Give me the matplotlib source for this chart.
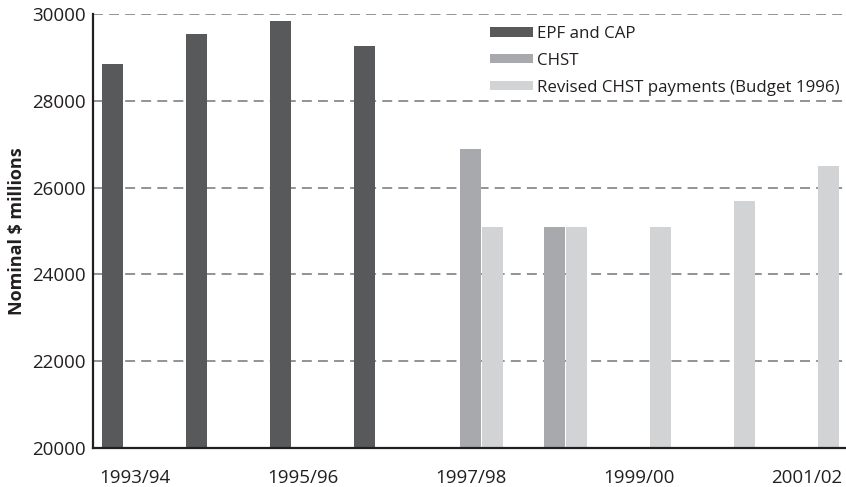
import matplotlib
matplotlib.use("Agg")
import matplotlib.pyplot as plt
import numpy as np

years = ["1993/94", "1994/95", "1995/96", "1996/97", "1997/98",
         "1998/99", "1999/00", "2000/01", "2001/02"]
tick_labels = ["1993/94", "1995/96", "1997/98", "1999/00", "2001/02"]
epf_cap = [28850, 29550, 29850, 29270, None, None, None, None, None]
chst = [None, None, None, None, 26900, 25100, None, None, None]
revised = [None, None, None, None, 25100, 25100, 25100, 25700, 26500]

series = [
    ("EPF and CAP", epf_cap, "#58595b", -0.262),
    ("CHST", chst, "#a7a9ac", 0.0),
    ("Revised CHST payments (Budget 1996)", revised, "#d1d3d4", 0.262),
]

plt.rcParams['font.family'] = ['Open Sans', 'DejaVu Sans']
fig = plt.figure(figsize=(8.46, 4.87), dpi=100)
ax = fig.add_axes([0.110, 0.080, 0.890, 0.891])

x = np.arange(len(years))
width = 0.25
base = 20000
for name, vals, col, off in series:
    xs = [xi + off for xi, v in zip(x, vals) if v is not None]
    hs = [v - base for v in vals if v is not None]
    ax.bar(xs, hs, width=width, bottom=base, color=col, label=name, zorder=3)

ax.set_xlim(-0.494, 8.47)
ax.set_ylim(20000, 30000)
ax.set_yticks(range(20000, 30001, 2000))
ax.set_xticks([years.index(t) for t in tick_labels])
ax.set_xticklabels(tick_labels)

for y in range(22000, 30001, 2000):
    ax.axhline(y, color="#8a8a8a", linewidth=1.3, dashes=(5.5, 3.4), zorder=1)

for s in ["top", "right"]:
    ax.spines[s].set_visible(False)
for s in ["left", "bottom"]:
    ax.spines[s].set_color("#231f20")
    ax.spines[s].set_linewidth(1.6)
    ax.spines[s].set_zorder(4)

ax.tick_params(axis="both", length=0, labelsize=13.5, colors="#231f20")
ax.tick_params(axis="y", pad=5)
ax.tick_params(axis="x", pad=15)

ax.set_ylabel("Nominal $ millions", fontsize=13, fontweight="bold", color="#231f20", labelpad=5)

leg = ax.legend(loc="upper left", bbox_to_anchor=(0.527, 0.973), frameon=False,
                fontsize=12.2,
                handlelength=2.55, handleheight=0.5,
                handletextpad=0.25, labelspacing=0.64, borderpad=0, borderaxespad=0)
for t in leg.get_texts():
    t.set_color("#231f20")

fig.savefig("out.png", dpi=100)
